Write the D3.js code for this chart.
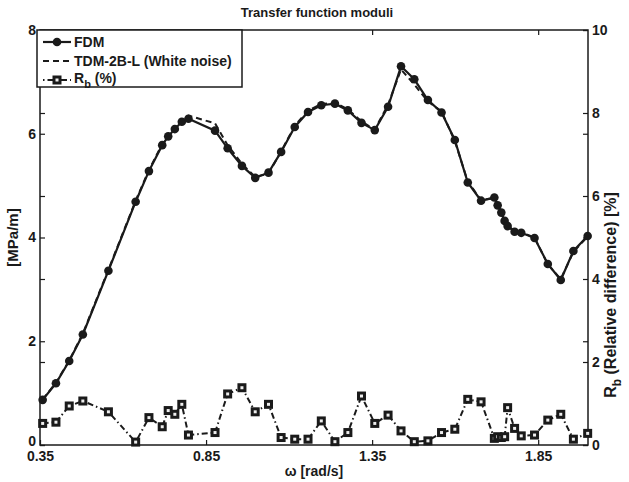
<!DOCTYPE html>
<html><head><meta charset="utf-8">
<script src="https://cdn.jsdelivr.net/npm/d3@7"></script>
<style>
body{margin:0;background:#fff;}
text{font-family:"Liberation Sans",Arial,Helvetica,sans-serif;font-weight:bold;fill:#1a1a1a;}
</style></head>
<body><svg id="c" width="629" height="482"></svg>
<script>
// ω [rad/s]
const omega = [0.358,0.398,0.438,0.479,0.556,0.638,0.678,0.718,0.736,0.756,0.777,0.797,0.877,0.915,0.958,0.998,1.038,1.076,1.117,1.157,1.197,1.238,1.277,1.318,1.358,1.398,1.437,1.477,1.518,1.559,1.599,1.638,1.678,1.718,1.728,1.739,1.749,1.758,1.779,1.799,1.839,1.879,1.918,1.956,1.999];
// FDM modulus [MPa/m]
const fdm = [0.87,1.19,1.62,2.13,3.36,4.69,5.28,5.78,5.95,6.09,6.23,6.29,6.06,5.72,5.38,5.15,5.25,5.65,6.13,6.42,6.55,6.58,6.45,6.21,6.07,6.52,7.30,7.05,6.65,6.41,5.88,5.06,4.71,4.77,4.62,4.48,4.32,4.22,4.11,4.09,3.99,3.49,3.18,3.74,4.03];
// TDM-2B-L (White noise) modulus [MPa/m]
const tdm = [0.88,1.20,1.63,2.15,3.38,4.71,5.30,5.80,5.98,6.13,6.27,6.35,6.20,5.78,5.42,5.17,5.23,5.66,6.15,6.45,6.57,6.60,6.47,6.24,6.08,6.56,7.24,6.95,6.62,6.43,5.86,5.08,4.72,4.76,4.63,4.49,4.34,4.23,4.12,4.10,4.00,3.48,3.20,3.72,4.02];
// R_b relative difference [%]
const rb = [0.52,0.55,0.94,1.06,0.80,0.07,0.66,0.44,0.83,0.74,0.98,0.24,0.30,1.23,1.38,0.80,0.98,0.18,0.14,0.14,0.58,0.08,0.30,1.18,0.52,0.72,0.34,0.08,0.10,0.30,0.38,1.10,1.04,0.16,0.20,0.18,0.20,0.90,0.40,0.22,0.24,0.60,0.74,0.14,0.28];

const xTicks = [0.35,0.85,1.35,1.85];
const yLTicks = [0,2,4,6,8];
const yRTicks = [0,2,4,6,8,10];

const svg = d3.select("#c");
const L=40,R=588,T=30,B=445;
const col="#1a1a1a";
const x = d3.scaleLinear().domain([0.35,2.0]).range([L,R]);
const yL = d3.scaleLinear().domain([0,8]).range([B,T]);
const yR = d3.scaleLinear().domain([0,10]).range([B,T]);

function styleAxis(g){
  g.select(".domain").remove();
  g.selectAll("line").attr("stroke",col).attr("stroke-width",1.2);
  g.selectAll("text").attr("font-size","14px").attr("fill",col).attr("font-family",null);
}
svg.append("g").attr("transform",`translate(0,${B})`)
  .call(d3.axisBottom(x).tickValues(xTicks).tickFormat(d3.format(".2f")).tickSizeInner(-5).tickSizeOuter(0).tickPadding(6))
  .call(styleAxis);
svg.append("g").attr("transform",`translate(0,${T})`)
  .call(d3.axisTop(x).tickValues(xTicks).tickFormat("").tickSizeInner(-5).tickSizeOuter(0))
  .call(styleAxis);
const gl = svg.append("g").attr("transform",`translate(${L},0)`)
  .call(d3.axisLeft(yL).tickValues(yLTicks).tickSizeInner(-5).tickSizeOuter(0).tickPadding(4))
  .call(styleAxis);
gl.selectAll(".tick").filter(d=>d===0).select("text").attr("y",-4);
svg.append("g").attr("transform",`translate(${R},0)`)
  .call(d3.axisLeft(yL).tickValues(yLTicks).tickFormat("").tickSizeInner(5).tickSizeOuter(0))
  .call(styleAxis);
svg.append("g").attr("transform",`translate(${R},0)`)
  .call(d3.axisRight(yR).tickValues(yRTicks).tickSizeInner(-5).tickSizeOuter(0).tickPadding(4))
  .call(styleAxis);
svg.append("g").attr("transform",`translate(${L},0)`)
  .call(d3.axisRight(yR).tickValues(yRTicks).tickFormat("").tickSizeInner(5).tickSizeOuter(0))
  .call(styleAxis);

svg.append("rect").attr("x",L).attr("y",T).attr("width",R-L).attr("height",B-T)
  .attr("fill","none").attr("stroke",col).attr("stroke-width",1.5);

const lineL = d3.line().x((d,i)=>x(omega[i])).y(d=>yL(d));
const lineR = d3.line().x((d,i)=>x(omega[i])).y(d=>yR(d));

svg.append("path").datum(rb).attr("d",lineR).attr("fill","none").attr("stroke",col)
  .attr("stroke-width",2).attr("stroke-dasharray","6,3,1.5,3");
svg.append("g").selectAll("rect").data(rb).join("rect")
  .attr("x",(d,i)=>x(omega[i])-3).attr("y",d=>yR(d)-3).attr("width",6).attr("height",6)
  .attr("fill","#eee").attr("stroke",col).attr("stroke-width",3);

svg.append("path").datum(fdm).attr("d",lineL).attr("fill","none").attr("stroke",col).attr("stroke-width",2.2);
svg.append("path").datum(tdm).attr("d",lineL).attr("fill","none").attr("stroke",col).attr("stroke-width",2)
  .attr("stroke-dasharray","6,4");
svg.append("g").selectAll("circle").data(fdm).join("circle")
  .attr("cx",(d,i)=>x(omega[i])).attr("cy",d=>yL(d)).attr("r",4.3).attr("fill",col);

svg.append("text").attr("x",317).attr("y",17).attr("text-anchor","middle").attr("font-size","13px").text("Transfer function moduli");
svg.append("text").attr("x",(L+R)/2).attr("y",476).attr("text-anchor","middle").attr("font-size","14px").text("ω [rad/s]");
svg.append("text").attr("transform",`translate(18,${(T+B)/2}) rotate(-90)`).attr("text-anchor","middle").attr("font-size","15px").text("[MPa/m]");
const rl = svg.append("text").attr("transform",`translate(616,295) rotate(-90)`).attr("text-anchor","middle").attr("font-size","16px");
rl.append("tspan").text("R");
rl.append("tspan").attr("dy",5).attr("font-size","12px").text("b");
rl.append("tspan").attr("dy",-5).text(" (Relative difference) [%]");

const lg = svg.append("g");
lg.append("rect").attr("x",37).attr("y",30).attr("width",205).attr("height",57).attr("fill","#fff").attr("stroke",col).attr("stroke-width",1.5);
const ly=[42,61,80];
lg.append("line").attr("x1",43).attr("x2",71).attr("y1",ly[0]).attr("y2",ly[0]).attr("stroke",col).attr("stroke-width",2.2);
lg.append("circle").attr("cx",57).attr("cy",ly[0]).attr("r",4.3).attr("fill",col);
lg.append("line").attr("x1",43).attr("x2",71).attr("y1",ly[1]).attr("y2",ly[1]).attr("stroke",col).attr("stroke-width",2).attr("stroke-dasharray","6,4");
lg.append("line").attr("x1",43).attr("x2",71).attr("y1",ly[2]).attr("y2",ly[2]).attr("stroke",col).attr("stroke-width",2).attr("stroke-dasharray","1.5,3,6,3");
lg.append("rect").attr("x",54).attr("y",ly[2]-3).attr("width",6).attr("height",6).attr("fill","#eee").attr("stroke",col).attr("stroke-width",3);
lg.append("text").attr("x",74).attr("y",ly[0]+5).attr("font-size","14px").text("FDM");
lg.append("text").attr("x",74).attr("y",ly[1]+5).attr("font-size","14px").text("TDM-2B-L (White noise)");
const lt = lg.append("text").attr("x",74).attr("y",ly[2]+3).attr("font-size","14px");
lt.append("tspan").text("R");
lt.append("tspan").attr("dy",5).attr("font-size","11px").text("b");
lt.append("tspan").attr("dy",-5).text(" (%)");
</script></body></html>
